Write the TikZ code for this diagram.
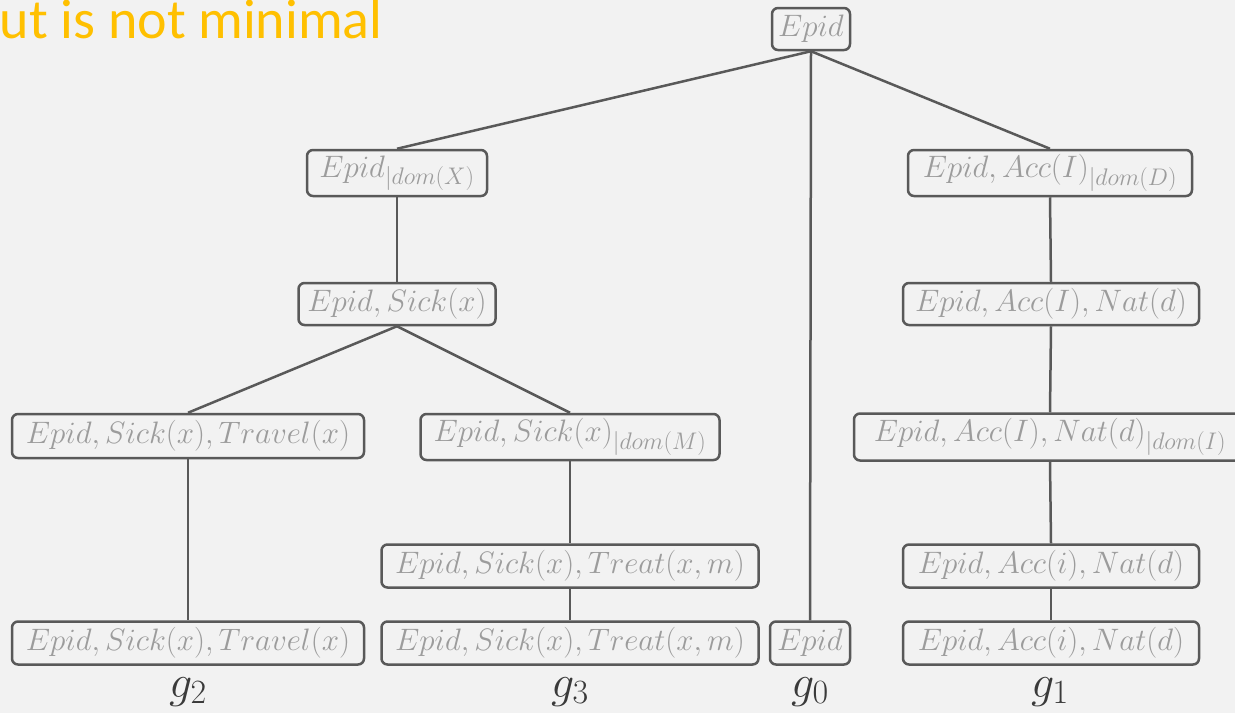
\RequirePackage{fix-cm}
\documentclass[tikz,border=0pt]{standalone}
\usepackage{fontspec}
\newfontfamily\titlefont{Carlito}
% larger script sizes for the box and label fonts
\DeclareMathSizes{31}{31}{24}{18}
\DeclareMathSizes{46}{46}{34}{26}
\definecolor{bg}{HTML}{F2F2F2}
\definecolor{edge}{HTML}{595959}
\definecolor{boxtext}{HTML}{9C9C9C}
\definecolor{accent}{HTML}{FFC000}
\definecolor{gtext}{HTML}{3A3A3A}
\begin{document}
\begin{tikzpicture}[x=1pt,y=-1pt,
  box/.style={draw=edge, line width=2.5pt, rounded corners=6pt, fill=bg,
    text=boxtext, inner sep=0pt, font=\fontsize{31}{36}\selectfont},
  link/.style={draw=edge, line width=2.5pt},
  glabel/.style={font=\fontsize{46}{50}\selectfont, text=gtext, anchor=base, inner sep=0pt}]
\useasboundingbox (0,0) rectangle (1235,713);
\clip (0,0) rectangle (1235,713);
\fill[bg] (0,0) rectangle (1235,713);

\node[font=\titlefont\fontsize{56}{60}\selectfont, text=accent, anchor=base east, inner sep=0pt]
  (title) at (383,38) {ut is not minimal};

% tree nodes
\node[box, minimum width=78pt,  minimum height=42pt] (root)   at (811,29)  {$Epid$};
\node[box, minimum width=180pt, minimum height=46pt] (dx)     at (397,173) {$Epid_{|dom(X)}$};
\node[box, minimum width=197pt, minimum height=42pt] (sick)   at (397,304) {$Epid, Sick(x)$};
\node[box, minimum width=352pt, minimum height=44pt] (trav1)  at (188,436) {$Epid, Sick(x), Travel(x)$};
\node[box, minimum width=299pt, minimum height=46pt] (domm)   at (570,437) {$Epid, Sick(x)_{|dom(M)}$};
\node[box, minimum width=377pt, minimum height=43pt] (treat1) at (570,566) {$Epid, Sick(x), Treat(x,m)$};
\node[box, minimum width=352pt, minimum height=43pt] (trav2)  at (188,643) {$Epid, Sick(x), Travel(x)$};
\node[box, minimum width=377pt, minimum height=43pt] (treat2) at (570,643) {$Epid, Sick(x), Treat(x,m)$};
\node[box, minimum width=80pt,  minimum height=43pt] (epid0)  at (810,643) {$Epid$};
\node[box, minimum width=284pt, minimum height=46pt] (accd)   at (1050,173) {$Epid, Acc(I)_{|dom(D)}$};
\node[box, minimum width=296pt, minimum height=42pt] (nat1)   at (1051,304) {$Epid, Acc(I), Nat(d)$};
\node[box, minimum width=392pt, minimum height=47pt] (natdom) at (1050,437) {$Epid, Acc(I), Nat(d)_{|dom(I)}$};
\node[box, minimum width=296pt, minimum height=43pt] (nati1)  at (1051,566) {$Epid, Acc(i), Nat(d)$};
\node[box, minimum width=296pt, minimum height=43pt] (nati2)  at (1051,643) {$Epid, Acc(i), Nat(d)$};

% connectors
\draw[link] (root.south) -- (dx.north);
\draw[link] (root.south) -- (epid0.north);
\draw[link] (root.south) -- (accd.north);
\draw[link] (dx.south) -- (sick.north);
\draw[link] (sick.south) -- (trav1.north);
\draw[link] (sick.south) -- (domm.north);
\draw[link] (trav1.south) -- (trav2.north);
\draw[link] (domm.south) -- (treat1.north);
\draw[link] (treat1.south) -- (treat2.north);
\draw[link] (accd.south) -- (nat1.north);
\draw[link] (nat1.south) -- (natdom.north);
\draw[link] (natdom.south) -- (nati1.north);
\draw[link] (nati1.south) -- (nati2.north);

% graph labels
\node[glabel] (g2) at (188,697) {$g_2$};
\node[glabel] (g3) at (570,697) {$g_3$};
\node[glabel] (g0) at (810,697) {$g_0$};
\node[glabel] (g1) at (1050,697) {$g_1$};
\end{tikzpicture}
\end{document}
